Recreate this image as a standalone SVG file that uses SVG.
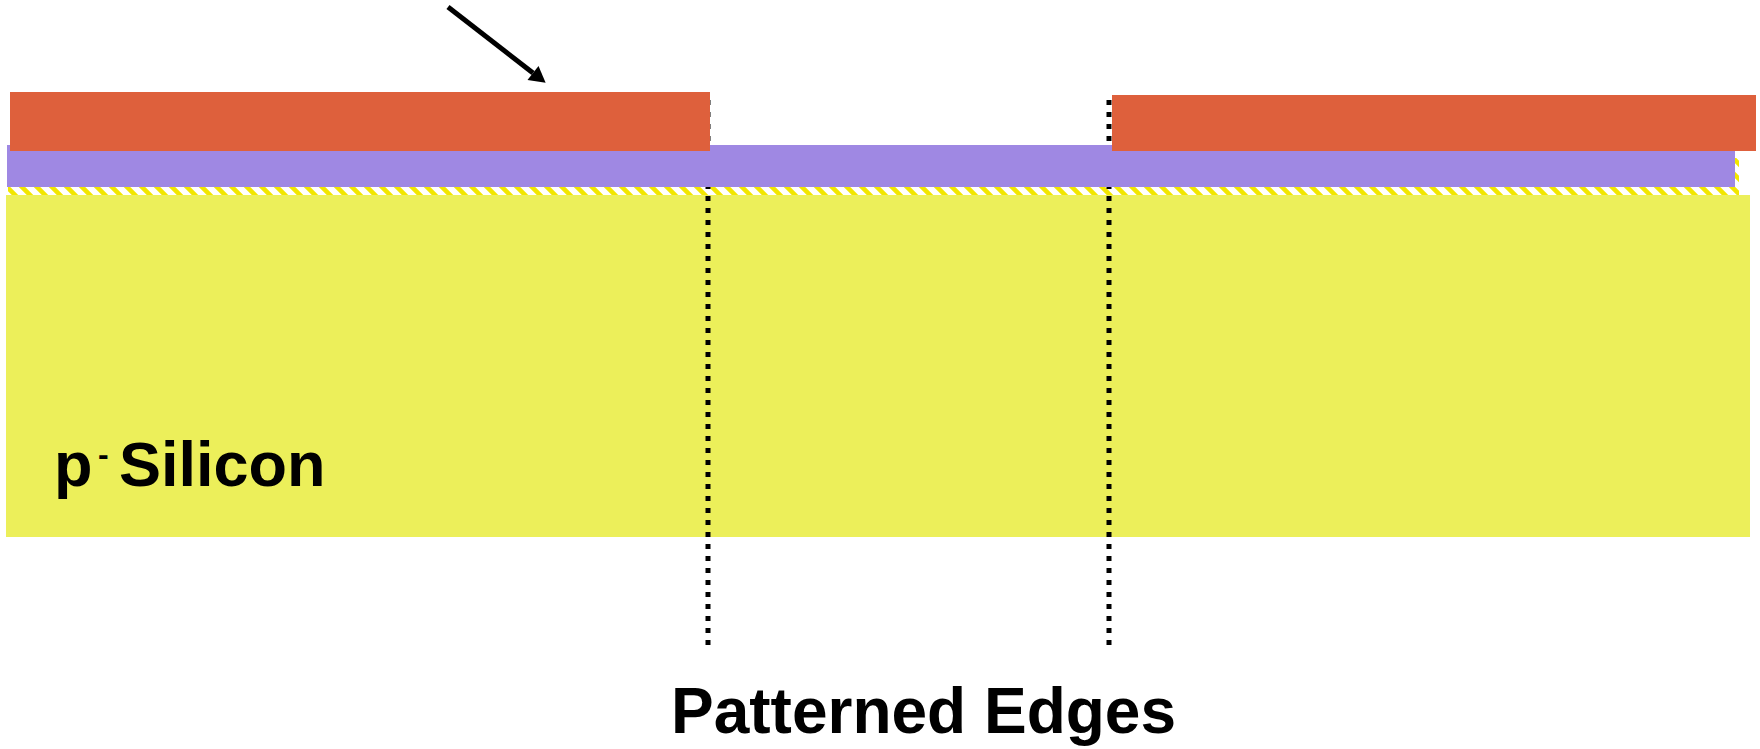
<svg xmlns="http://www.w3.org/2000/svg" width="1760" height="749" viewBox="0 0 1760 749">
  <style>
    .lbl { font-family: "Liberation Sans", Arial, sans-serif; font-weight: bold; fill: #000; }
    .edge { stroke: #000; stroke-width: 5; stroke-dasharray: 5 7; fill: none; }
  </style>
  <defs>
    <pattern id="hatch" patternUnits="userSpaceOnUse" width="15" height="15">
      <rect width="15" height="15" fill="#ffffff"/>
      <path d="M-4,-4 L19,19 M-4,11 L4,19 M11,-4 L19,4" stroke="#F2E600" stroke-width="4.5"/>
    </pattern>
    <marker id="ah" markerUnits="userSpaceOnUse" markerWidth="20" markerHeight="20" viewBox="0 -10 18 20" refX="0" refY="0" orient="auto">
      <path d="M0,-9 L16,0 L0,9 z" fill="#000"/>
    </marker>
  </defs>
  <rect width="1760" height="749" fill="#ffffff"/>

  <g id="substrate">
    <rect x="6" y="195" width="1744" height="342" fill="#ECEF5A"/>
    <text class="lbl" font-size="63"><tspan x="54" y="486">p</tspan><tspan x="98" y="465" font-size="32">-</tspan><tspan x="119" y="486">Silicon</tspan></text>
  </g>

  <g id="interface">
    <rect x="8" y="158" width="1731" height="37" fill="url(#hatch)"/>
  </g>

  <g id="connectors">
    <line class="edge" x1="708" y1="100" x2="708" y2="647"/>
    <line class="edge" x1="1109" y1="100" x2="1109" y2="647"/>
    <line x1="448" y1="7" x2="533" y2="73" stroke="#000" stroke-width="5" marker-end="url(#ah)"/>
  </g>

  <g id="oxide">
    <rect x="7" y="145" width="1728" height="42" fill="#9F88E3"/>
  </g>

  <g id="resist-left">
    <rect x="10" y="92" width="700" height="59" fill="#DE603C"/>
  </g>
  <g id="resist-right">
    <rect x="1112" y="95" width="644" height="56" fill="#DE603C"/>
  </g>

  <g id="caption">
    <text class="lbl" x="671" y="733" font-size="64">Patterned Edges</text>
  </g>
</svg>
